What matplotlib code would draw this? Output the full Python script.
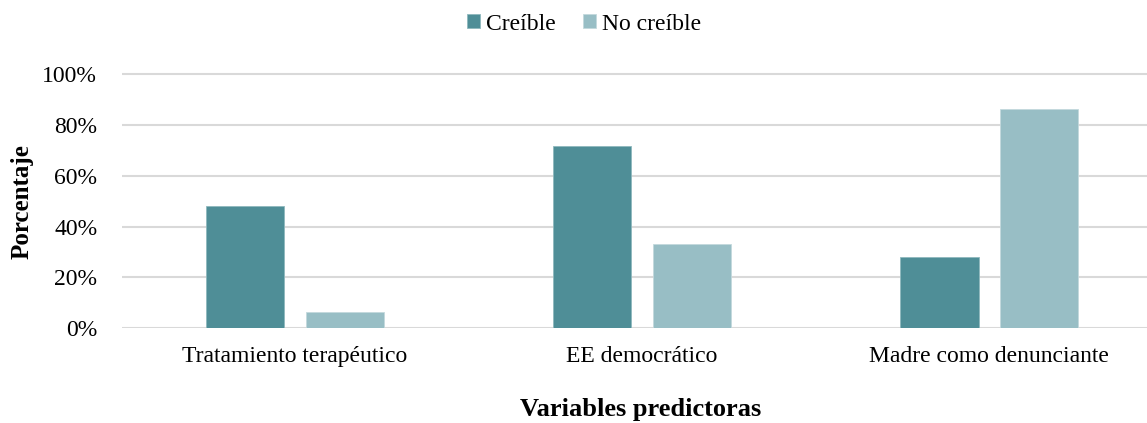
import numpy as np
import matplotlib
matplotlib.use("Agg")
import matplotlib.pyplot as plt
from matplotlib.ticker import PercentFormatter

plt.rcParams['font.family'] = ['Liberation Serif', 'DejaVu Serif']

categories = ['Tratamiento terapéutico', 'EE democrático', 'Madre como denunciante']
creible = [48.1, 71.6, 28.0]
no_creible = [6.3, 33.0, 86.5]
series_names = ['Creíble', 'No creíble']
colors = ['#4f8e97', '#98bec5']

fig = plt.figure(figsize=(11.47, 4.23), dpi=100)
# plot area: 0% at y=328, 100% at y=74, left edge x=121
ax = fig.add_axes([121.5 / 1147, 94.7 / 423, 1 - 121.5 / 1147, 0.6006 * 1.02])

index = np.arange(len(categories))
bar_width = 0.225
offset = 0.143

ax.bar(index - offset, creible, bar_width, color=colors[0], label=series_names[0],
       edgecolor='#8fb8be', linewidth=0.6, zorder=3)
ax.bar(index + offset, no_creible, bar_width, color=colors[1], label=series_names[1],
       edgecolor='#c3d9dd', linewidth=0.6, zorder=3)

ax.set_xlim(-0.5, 2.455)
ax.set_ylim(0, 102)
ax.set_yticks(np.arange(0, 101, 20))
ax.yaxis.set_major_formatter(PercentFormatter(decimals=0))
ax.set_xticks(index)
ax.set_xticklabels(categories)

ax.grid(axis='y', color='#d9d9d9', linewidth=1.5, zorder=0)
ax.set_axisbelow(True)
for s in ['top', 'right', 'left', 'bottom']:
    ax.spines[s].set_visible(False)
ax.tick_params(axis='both', length=0, labelsize=17, colors='black')
ax.tick_params(axis='x', pad=13)
ax.tick_params(axis='y', pad=17.5)

ax.set_ylabel('Porcentaje', fontsize=18, fontweight='bold')
ax.yaxis.set_label_coords((22 - 121.5) / (1147 - 121.5), 0.49)
ax.yaxis.label.set_va('center')
ax.set_xlabel('Variables predictoras', fontsize=19, fontweight='bold')
ax.xaxis.set_label_coords((641 - 121.5) / (1147 - 121.5), -(409 - 328.3) / 259.1)
ax.xaxis.label.set_va('center')

fig.legend(loc='center', bbox_to_anchor=(584 / 1147, 1 - 24 / 423), ncol=2,
           frameon=False, fontsize=17, handlelength=0.55, handleheight=0.55,
           handletextpad=0.25, columnspacing=1.15)

fig.savefig('out.png', dpi=100)
